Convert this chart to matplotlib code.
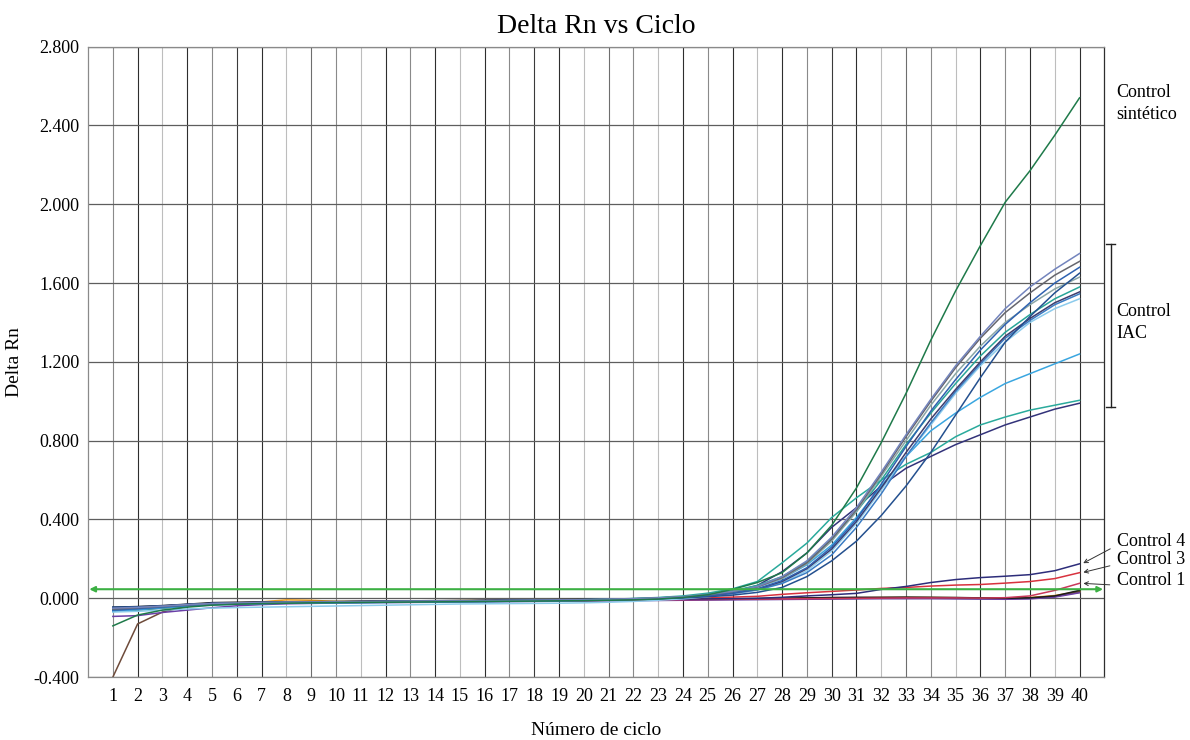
import numpy as np
import matplotlib
matplotlib.use("Agg")
import matplotlib.pyplot as plt

plt.rcParams['font.family'] = ['Liberation Serif', 'DejaVu Serif']

cycles = list(range(1, 41))
threshold = 0.046

# amplification curves, Delta Rn per cycle (1..40)
sintetico = [-0.140, -0.085, -0.060, -0.045, -0.035, -0.030, -0.027, -0.025, -0.023, -0.022,
             -0.021, -0.020, -0.019, -0.018, -0.017, -0.016, -0.015, -0.014, -0.013, -0.012,
             -0.010, -0.008, -0.004, 0.004, 0.018, 0.045, 0.080, 0.130, 0.230, 0.370,
             0.560, 0.790, 1.040, 1.310, 1.560, 1.790, 2.010, 2.170, 2.350, 2.540]

iac_a = [-0.050, -0.046, -0.040, -0.032, -0.027, -0.024, -0.022, -0.020, -0.019, -0.018,
         -0.017, -0.016, -0.015, -0.014, -0.013, -0.012, -0.011, -0.010, -0.009, -0.007,
         -0.005, -0.002, 0.002, 0.008, 0.020, 0.035, 0.060, 0.110, 0.190, 0.310,
         0.460, 0.640, 0.830, 1.010, 1.180, 1.330, 1.470, 1.580, 1.670, 1.750]
iac_b = [-0.055, -0.048, -0.041, -0.033, -0.027, -0.024, -0.022, -0.021, -0.020, -0.019,
         -0.018, -0.017, -0.016, -0.015, -0.014, -0.013, -0.012, -0.011, -0.010, -0.008,
         -0.006, -0.003, 0.001, 0.007, 0.018, 0.034, 0.058, 0.105, 0.180, 0.300,
         0.450, 0.630, 0.820, 1.000, 1.170, 1.320, 1.450, 1.550, 1.640, 1.710]
iac_c = [-0.060, -0.052, -0.044, -0.035, -0.029, -0.026, -0.024, -0.022, -0.021, -0.020,
         -0.019, -0.018, -0.017, -0.016, -0.015, -0.014, -0.013, -0.012, -0.011, -0.009,
         -0.007, -0.004, 0.000, 0.005, 0.014, 0.028, 0.048, 0.090, 0.155, 0.260,
         0.400, 0.580, 0.770, 0.950, 1.110, 1.260, 1.390, 1.500, 1.600, 1.680]
iac_d = [-0.045, -0.043, -0.038, -0.031, -0.026, -0.023, -0.021, -0.020, -0.019, -0.018,
         -0.017, -0.016, -0.015, -0.014, -0.013, -0.012, -0.011, -0.010, -0.009, -0.008,
         -0.007, -0.005, -0.002, 0.002, 0.008, 0.016, 0.030, 0.055, 0.110, 0.190,
         0.290, 0.420, 0.570, 0.740, 0.930, 1.120, 1.300, 1.430, 1.550, 1.650]
iac_e = [-0.052, -0.047, -0.041, -0.033, -0.027, -0.024, -0.022, -0.021, -0.020, -0.019,
         -0.018, -0.017, -0.016, -0.015, -0.014, -0.013, -0.012, -0.011, -0.010, -0.008,
         -0.006, -0.003, 0.001, 0.007, 0.018, 0.034, 0.058, 0.100, 0.175, 0.290,
         0.440, 0.620, 0.800, 0.980, 1.140, 1.280, 1.400, 1.490, 1.570, 1.630]
iac_f = [-0.058, -0.050, -0.043, -0.034, -0.028, -0.025, -0.023, -0.021, -0.020, -0.019,
         -0.018, -0.017, -0.016, -0.015, -0.014, -0.013, -0.012, -0.011, -0.010, -0.008,
         -0.006, -0.003, 0.001, 0.008, 0.020, 0.038, 0.065, 0.110, 0.185, 0.300,
         0.440, 0.600, 0.780, 0.940, 1.090, 1.230, 1.350, 1.440, 1.520, 1.580]
iac_g = [-0.048, -0.045, -0.040, -0.032, -0.026, -0.023, -0.021, -0.020, -0.019, -0.018,
         -0.017, -0.016, -0.015, -0.014, -0.013, -0.012, -0.011, -0.010, -0.009, -0.008,
         -0.006, -0.004, 0.000, 0.005, 0.014, 0.027, 0.047, 0.085, 0.150, 0.250,
         0.390, 0.560, 0.740, 0.910, 1.060, 1.200, 1.330, 1.420, 1.500, 1.555]
iac_h = [-0.062, -0.054, -0.046, -0.037, -0.031, -0.028, -0.026, -0.024, -0.023, -0.022,
         -0.021, -0.020, -0.019, -0.018, -0.017, -0.016, -0.015, -0.014, -0.012, -0.010,
         -0.008, -0.005, -0.001, 0.004, 0.012, 0.024, 0.042, 0.075, 0.130, 0.220,
         0.360, 0.530, 0.720, 0.890, 1.050, 1.190, 1.320, 1.410, 1.490, 1.545]
iac_i = [-0.070, -0.066, -0.060, -0.054, -0.050, -0.047, -0.045, -0.043, -0.041, -0.039,
         -0.037, -0.035, -0.033, -0.031, -0.029, -0.028, -0.027, -0.026, -0.025, -0.023,
         -0.020, -0.016, -0.010, -0.003, 0.008, 0.022, 0.043, 0.080, 0.140, 0.240,
         0.380, 0.550, 0.720, 0.880, 1.040, 1.180, 1.300, 1.400, 1.470, 1.520]
iac_j = [-0.066, -0.058, -0.049, -0.040, -0.034, -0.030, -0.027, -0.025, -0.024, -0.023,
         -0.022, -0.021, -0.020, -0.019, -0.018, -0.017, -0.016, -0.015, -0.013, -0.011,
         -0.009, -0.006, -0.002, 0.005, 0.016, 0.032, 0.058, 0.100, 0.170, 0.270,
         0.410, 0.570, 0.720, 0.850, 0.940, 1.020, 1.090, 1.140, 1.190, 1.240]
iac_k = [-0.056, -0.050, -0.043, -0.034, -0.028, -0.025, -0.023, -0.021, -0.020, -0.019,
         -0.018, -0.017, -0.016, -0.015, -0.014, -0.013, -0.012, -0.011, -0.009, -0.007,
         -0.005, -0.001, 0.004, 0.012, 0.026, 0.048, 0.085, 0.180, 0.280, 0.410,
         0.510, 0.600, 0.680, 0.740, 0.820, 0.880, 0.920, 0.955, 0.980, 1.005]
iac_l = [-0.050, -0.046, -0.041, -0.033, -0.027, -0.024, -0.022, -0.020, -0.019, -0.018,
         -0.017, -0.016, -0.015, -0.014, -0.013, -0.012, -0.011, -0.010, -0.009, -0.007,
         -0.005, -0.002, 0.002, 0.008, 0.018, 0.032, 0.065, 0.135, 0.230, 0.360,
         0.460, 0.570, 0.660, 0.720, 0.780, 0.830, 0.880, 0.920, 0.960, 0.990]

control_4 = [-0.050, -0.046, -0.040, -0.032, -0.026, -0.023, -0.021, -0.020, -0.019, -0.018,
             -0.017, -0.016, -0.015, -0.014, -0.013, -0.012, -0.011, -0.010, -0.009, -0.008,
             -0.007, -0.006, -0.005, -0.004, -0.003, -0.002, 0.000, 0.005, 0.012, 0.018,
             0.025, 0.045, 0.060, 0.080, 0.095, 0.105, 0.112, 0.120, 0.140, 0.175]
control_3 = [-0.055, -0.049, -0.042, -0.034, -0.028, -0.025, -0.023, -0.021, -0.020, -0.019,
             -0.018, -0.017, -0.016, -0.015, -0.014, -0.013, -0.012, -0.011, -0.010, -0.009,
             -0.008, -0.006, -0.004, -0.002, 0.002, 0.006, 0.010, 0.020, 0.028, 0.035,
             0.042, 0.050, 0.055, 0.062, 0.067, 0.070, 0.077, 0.085, 0.100, 0.130]
control_1 = [-0.060, -0.053, -0.045, -0.036, -0.030, -0.027, -0.025, -0.023, -0.022, -0.021,
             -0.020, -0.019, -0.018, -0.017, -0.016, -0.015, -0.014, -0.013, -0.012, -0.011,
             -0.010, -0.009, -0.008, -0.007, -0.006, -0.005, -0.004, -0.003, -0.002, -0.001,
             0.000, 0.001, 0.002, 0.002, 0.002, 0.001, 0.003, 0.012, 0.040, 0.076]

neg_black = [-0.045, -0.042, -0.037, -0.030, -0.022, -0.020, -0.019, -0.018, -0.017, -0.016,
             -0.015, -0.014, -0.013, -0.012, -0.011, -0.010, -0.009, -0.008, -0.007, -0.006,
             -0.005, -0.005, -0.004, -0.004, -0.004, -0.003, -0.002, 0.000, 0.002, 0.004,
             0.005, 0.005, 0.006, 0.005, 0.004, 0.002, 0.000, 0.002, 0.012, 0.040]
neg_orange = [-0.058, -0.055, -0.048, -0.035, -0.028, -0.024, -0.018, -0.008, -0.010, -0.016,
              -0.016, -0.015, -0.014, -0.013, -0.012, -0.011, -0.010, -0.009, -0.009, -0.008,
              -0.007, -0.006, -0.006, -0.005, -0.004, -0.003, -0.002, -0.001, 0.001, 0.002,
              0.003, 0.004, 0.004, 0.004, 0.003, 0.002, 0.001, 0.004, 0.014, 0.035]
neg_olive = [-0.060, -0.055, -0.047, -0.036, -0.029, -0.026, -0.024, -0.022, -0.021, -0.020,
             -0.019, -0.018, -0.017, -0.016, -0.015, -0.014, -0.013, -0.012, -0.011, -0.010,
             -0.009, -0.008, -0.007, -0.006, -0.005, -0.004, -0.003, -0.002, -0.001, 0.000,
             0.001, 0.002, 0.002, 0.002, 0.001, 0.000, -0.001, 0.001, 0.010, 0.030]
neg_purple = [-0.092, -0.088, -0.072, -0.060, -0.048, -0.038, -0.032, -0.028, -0.026, -0.024,
              -0.023, -0.022, -0.021, -0.020, -0.019, -0.018, -0.017, -0.016, -0.015, -0.014,
              -0.013, -0.012, -0.011, -0.010, -0.009, -0.008, -0.007, -0.006, -0.005, -0.004,
              -0.003, -0.002, -0.002, -0.002, -0.003, -0.004, -0.005, -0.003, 0.006, 0.028]
neg_brown = [-0.400, -0.130, -0.070, -0.040, -0.027, -0.024, -0.022, -0.021, -0.020, -0.019,
             -0.018, -0.017, -0.016, -0.015, -0.014, -0.013, -0.012, -0.011, -0.010, -0.009,
             -0.008, -0.007, -0.006, -0.005, -0.004, -0.003, -0.002, -0.001, 0.000, 0.001,
             0.002, 0.003, 0.003, 0.003, 0.002, 0.001, 0.000, 0.002, 0.010, 0.033]
neg_green = [-0.066, -0.060, -0.050, -0.040, -0.031, -0.027, -0.025, -0.023, -0.022, -0.021,
             -0.020, -0.019, -0.018, -0.017, -0.016, -0.015, -0.014, -0.013, -0.012, -0.011,
             -0.010, -0.009, -0.008, -0.007, -0.006, -0.005, -0.004, -0.003, -0.002, -0.001,
             0.000, 0.001, 0.001, 0.001, 0.000, -0.001, -0.002, 0.000, 0.008, 0.038]

curves = [
    (neg_olive, '#8c8a2a'), (neg_green, '#1e6b45'), (neg_orange, '#e89a1c'),
    (neg_brown, '#6e4b3a'), (neg_purple, '#6b3fa6'), (neg_black, '#1c1c1c'),
    (control_1, '#c8385a'), (control_3, '#d8323e'), (control_4, '#2d2d7a'),
    (iac_l, '#33337a'), (iac_k, '#2aaa9c'), (iac_j, '#3aa6e0'),
    (iac_i, '#8ccbec'), (iac_h, '#3a7cc4'), (iac_g, '#3d3d6e'),
    (iac_f, '#29a598'), (iac_e, '#8aa6a6'), (iac_d, '#24508f'),
    (iac_c, '#2f62b0'), (iac_b, '#66666e'), (iac_a, '#7384bd'),
    (sintetico, '#1f7a4a'),
]

fig = plt.figure(figsize=(11.9, 7.4), dpi=100)
ax = fig.add_axes([0.074, 0.085, 0.854, 0.852])

ax.set_xlim(0, 41)
ax.set_ylim(-0.4, 2.8)

# vertical grid at every cycle, shades vary like the instrument export
shades = ['#8a8a8a', '#2e2e2e', '#bdbdbd', '#2e2e2e', '#8a8a8a', '#3a3a3a',
          '#2e2e2e', '#bdbdbd', '#6e6e6e', '#8a8a8a', '#bdbdbd', '#2e2e2e']
for i, c in enumerate(cycles):
    ax.axvline(c, color=shades[i % len(shades)], lw=0.8, zorder=0)
for yv in np.arange(-0.4, 2.81, 0.4):
    ax.axhline(yv, color='#5e5e5e', lw=0.9, zorder=0)

for vals, col in curves:
    ax.plot(cycles, vals, color=col, lw=1.1, zorder=2)

# threshold line
ax.annotate('', xy=(0.05, threshold), xytext=(40.95, threshold),
            arrowprops=dict(arrowstyle='<|-|>', color='#3cb043', lw=1.5,
                            mutation_scale=8, shrinkA=0, shrinkB=0), zorder=3)

ax.set_xticks(cycles)
ax.set_yticks(np.arange(-0.4, 2.81, 0.4))
ax.set_yticklabels([f'{v:.3f}' for v in np.arange(-0.4, 2.81, 0.4)])
ax.tick_params(length=0, labelsize=13, pad=8)
ax.tick_params(axis='y', pad=6)

for side in ['left', 'bottom', 'top']:
    ax.spines[side].set_color('#8a8a8a')
    ax.spines[side].set_linewidth(0.9)
ax.spines['right'].set_color('#2e2e2e')
ax.spines['right'].set_linewidth(0.9)

ax.set_title('Delta Rn vs Ciclo', fontsize=20, pad=10)
ax.set_xlabel('Número de ciclo', fontsize=14, labelpad=12)
ax.set_ylabel('Delta Rn', fontsize=14, labelpad=8)

# group labels on the right
ax.text(41.5, 2.51, 'Control\nsintético', fontsize=13, va='center', ha='left',
        linespacing=1.35, clip_on=False)
ax.text(41.5, 1.40, 'Control\nIAC', fontsize=13, va='center', ha='left',
        linespacing=1.35, clip_on=False)
ax.plot([41.25, 41.25], [0.97, 1.80], color='#222222', lw=1.0, clip_on=False)
ax.plot([41.05, 41.45], [1.80, 1.80], color='#222222', lw=1.0, clip_on=False)
ax.plot([41.05, 41.45], [0.97, 0.97], color='#222222', lw=1.0, clip_on=False)

for name, ytxt, yend in [('Control 4', 0.29, control_4[-1]),
                         ('Control 3', 0.195, control_3[-1]),
                         ('Control 1', 0.088, control_1[-1])]:
    ax.annotate(name, xy=(40.1, yend), xytext=(41.5, ytxt), fontsize=13,
                va='center', ha='left', annotation_clip=False,
                arrowprops=dict(arrowstyle='->', color='#333333', lw=0.7,
                                relpos=(0, 0.25), shrinkA=3, shrinkB=1,
                                mutation_scale=7))

fig.savefig('out.png', dpi=100)
